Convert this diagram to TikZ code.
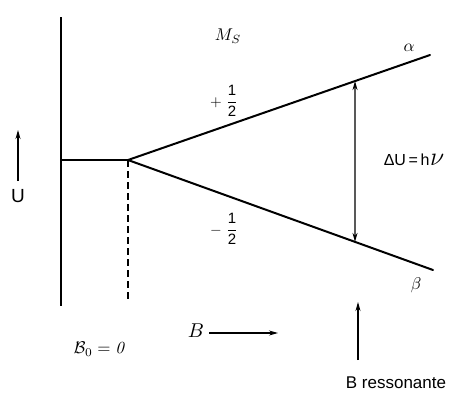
\documentclass[tikz,border=0pt]{standalone}
\usepackage{fontspec}
\newfontfamily\arial{Liberation Sans}
\usetikzlibrary{arrows.meta,calc}
\begin{document}
\begin{tikzpicture}[x=1pt,y=-1pt,
  level/.style={line width=2pt},
  thinarrow/.style={line width=1.1pt,-{Stealth[length=9pt,width=5pt]}},
  dblarrow/.style={line width=1.1pt,{Stealth[length=9pt,width=5pt]}-{Stealth[length=9pt,width=5pt]}},
  lbl/.style={inner sep=0pt}]
\useasboundingbox (0,0) rectangle (449,394);
% axis and levels
\coordinate (axtop) at (61,17);
\coordinate (axbot) at (61,306);
\coordinate (O) at (61,160);
\coordinate (S) at (128,160);
\coordinate (A) at (430,55);
\coordinate (Bb) at (433,270);
\coordinate (dashbot) at (128,299);
\draw[level] (axtop) -- (axbot);
\draw[level] (O) -- (S);
\draw[level,line cap=round] (S) -- (A);
\draw[level,line cap=round] (S) -- (Bb);
\draw[line width=1.4pt,dash pattern=on 7pt off 4pt] (S) -- (dashbot);
% transition arrow
\coordinate (up) at ($(S)!0.7517!(A)$);
\coordinate (dn) at ($(S)!0.7443!(Bb)$);
\draw[dblarrow] (up) -- (dn);
% labels
\node[lbl,scale=1.7] (ms) at (228,36) {$M_S$};
\node[lbl,scale=1.7] (alpha) at (409,48) {$\alpha$};
\node[lbl,scale=1.7] (beta) at (416,285) {$\beta$};
\node[lbl,scale=1.5] (plus) at (224,101) {$\displaystyle +\;\frac{\hbox{\arial 1}}{\hbox{\arial 2}}$};
\node[lbl,scale=1.5] (minus) at (224,229) {$\displaystyle -\;\frac{\hbox{\arial 1}}{\hbox{\arial 2}}$};
\node[lbl] (du) at (414,160) {\fontsize{16}{18}\selectfont\arial ΔU\,=\,h\kern0.5pt\scalebox{1.5}{$\nu$}};
% U arrow
\coordinate (ubot) at (18,181);
\coordinate (utop) at (18,130);
\draw[thinarrow] (ubot) -- (utop);
\node[lbl] (U) at (18,196) {\fontsize{19}{22}\selectfont\arial U};
% B arrow
\node[lbl,scale=2] (B) at (196,331) {$B$};
\coordinate (bstart) at (209,333);
\coordinate (bend) at (278,333);
\draw[thinarrow] (bstart) -- (bend);
\node[lbl,scale=1.7] (B0) at (99,349) {$\mathcal{B}_0=\mathit{0}$};
% resonance arrow
\coordinate (rbot) at (358,360);
\coordinate (rtop) at (358,302);
\draw[thinarrow] (rbot) -- (rtop);
\node[lbl] (bres) at (396,383) {\fontsize{17}{20}\selectfont\arial B ressonante};
\end{tikzpicture}
\end{document}
